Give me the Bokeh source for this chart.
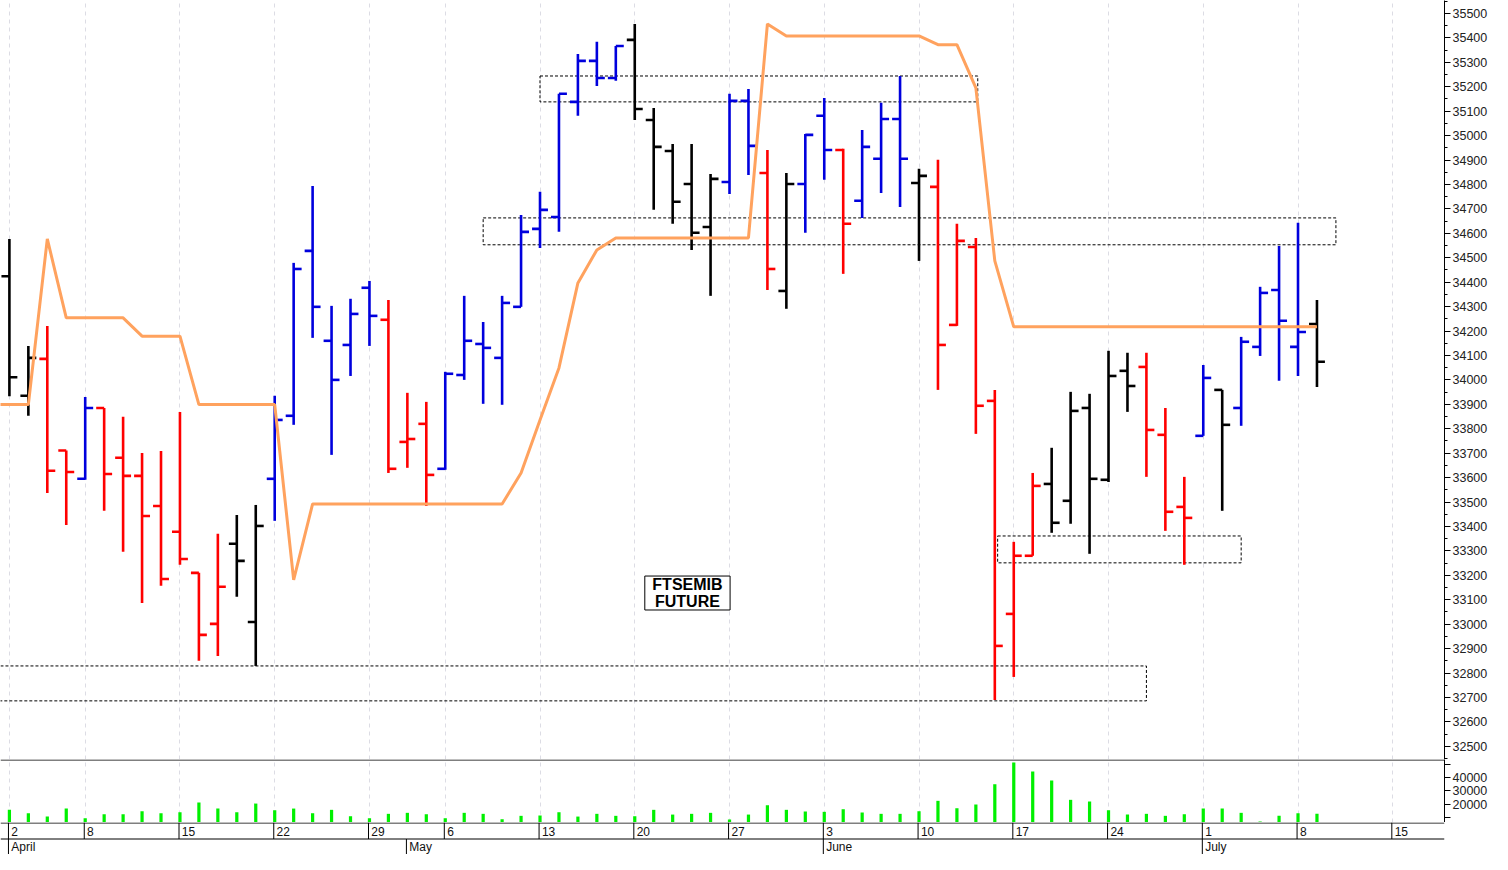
from bokeh.plotting import figure
from bokeh.models import Range1d, FixedTicker, SingleIntervalTicker, Grid, Span
from bokeh.layouts import column
from bokeh.embed import file_html
from bokeh.resources import INLINE
from bokeh.core.properties import value

# ---------------- data (trading-day index 0 = 2 April) ----------------
opens = [34424, 33935, 34086, 33711, 33595, 33885, 33681, 33607, 33484, 33378,
         33210, 33001, 33329, 33009, 33595, 33853, 34528, 34160, 34143, 34377,
         34246, 33746, 33820, 33636, 34020, 34147, 34090, 34299, 34618, 34667,
         35138, 35306, 35236, 35392, 35064, 34937, 34802, 34626, 34810, 35142,
         34847, 34364, 34802, 35081, 34941, 34733, 34905, 35068, 34806, 34790,
         34225, 34544, 33914, 33042, 33280, 33574, 33505, 33885, 33591, 34037,
         34053, 33775, 33480, 33771, 33959, 33885, 34135, 34368, 34135, 34229]
highs = [34577, 34139, 34221, 33711, 33930, 33885, 33849, 33701, 33709, 33869,
         33210, 33370, 33447, 33488, 33935, 34479, 34794, 34303, 34332, 34405,
         34327, 33947, 33910, 34033, 34344, 34237, 34344, 34675, 34770, 35171,
         35334, 35384, 35367, 35457, 35113, 34966, 34966, 34843, 35171, 35191,
         34941, 34847, 35007, 35154, 34946, 35023, 35134, 35244, 34864, 34901,
         34639, 34581, 33959, 33337, 33619, 33722, 33951, 33943, 34119, 34111,
         34111, 33885, 33603, 34061, 33959, 34176, 34381, 34548, 34643, 34327]
lows = [33933, 33853, 33537, 33406, 33591, 33464, 33296, 33087, 33157, 33243,
        32850, 32870, 33112, 32829, 33423, 33816, 34172, 33693, 34016, 34139,
        33619, 33640, 33484, 33632, 34000, 33902, 33898, 34299, 34540, 34606,
        35081, 35203, 35224, 35064, 34696, 34639, 34532, 34344, 34761, 34839,
        34368, 34291, 34602, 34819, 34434, 34663, 34765, 34708, 34487, 33959,
        34221, 33779, 32690, 32784, 33280, 33374, 33411, 33288, 33582, 33869,
        33603, 33382, 33243, 33771, 33464, 33812, 34098, 33996, 34016, 33971]
closes = [34011, 34090, 33628, 33623, 33885, 33615, 33607, 33443, 33185, 33267,
          32956, 33153, 33259, 33402, 33836, 34454, 34299, 34000, 34270, 34262,
          33636, 33758, 33611, 34025, 34160, 34131, 34315, 34606, 34696, 35171,
          35306, 35236, 35367, 35109, 34954, 34729, 34602, 34823, 35142, 34958,
          34454, 34802, 35003, 34941, 34639, 34954, 35068, 34905, 34835, 34143,
          34569, 33894, 32911, 33280, 33566, 33415, 33873, 33595, 34016, 33975,
          33795, 33460, 33435, 34008, 33816, 34156, 34356, 34242, 34196, 34074]
# bar colour codes: k = black, r = red, b = blue
bar_codes = ("kkrrbrrrrr" "rrkkbbbbbb" "rrrbbbbbbb" "bbbkkkkkbb"
             "rkbbrbbbkr" "rrrrrkkkkk" "rrrbkbbbbk")
volumes = [15750, 13200, 10700, 16700, 9450, 12450, 12450, 14700, 13200, 13950,
           21200, 16700, 13950, 20450, 15450, 16700, 13200, 15750, 10950, 9450,
           12750, 13500, 12450, 9450, 13500, 12750, 8700, 11250, 11500, 13950,
           10700, 12750, 11250, 10950, 15750, 12200, 12750, 13500, 8500, 12200,
           19200, 15750, 14500, 14250, 16200, 13750, 12750, 12750, 14700, 22500,
           16950, 19750, 34950, 51250, 44500, 37750, 23250, 22000, 15450, 12250,
           12750, 11250, 12450, 16750, 16750, 13500, 7000, 11250, 13200, 12750]
# orange line (starts one session before the first bar)
line_x = list(range(-1, 70))
line_vals = ([33899, 33899, 33899, 34577, 34254, 34254, 34254, 34254, 34179, 34179,
              34179, 33899, 33899, 33899, 33899, 33899, 33181, 33492]
             + [33492] * 10
             + [33619, 33836, 34049, 34397, 34532, 34581]
             + [34581] * 7
             + [35457, 35408]
             + [35408] * 7
             + [35372, 35372, 35195, 34487]
             + [34217] * 17)
# dashed zones
zone_left = [28.0, 25.0, 52.15, -1.0]
zone_right = [51.1, 70.0, 65.0, 60.0]
zone_top = [35244, 34663, 33361, 32829]
zone_bottom = [35138, 34553, 33251, 32686]
# date axis
week_idx = [0, 4, 9, 14, 19, 23, 28, 33, 38, 43, 48, 53, 58, 63, 68, 73]
week_labels = ["2", "8", "15", "22", "29", "6", "13", "20", "27", "3", "10", "17", "24", "1", "8", "15"]
month_idx = [0, 21, 43, 63]
month_labels = ["April", "May", "June", "July"]
note_lines = ["FTSEMIB", "FUTURE"]
note_x = 35.78
note_centers = [33163, 33094]
note_box = dict(left=33.53, right=38.03, top=33197, bottom=33058)

# ---------------- layout ----------------
W = 1492
AXIS_W = 48
PRICE_H, VOL_H, DATE_H = 759, 63, 32
FONT = "Liberation Sans"
COLOR_MAP = {"k": "#000000", "r": "#ff0000", "b": "#0000dd"}
colors = [COLOR_MAP[c] for c in bar_codes]
idx = list(range(len(opens)))

x_range = Range1d(-0.47, 75.73)


def make_fig(height, y_range, axis=True):
    p = figure(width=W, height=height, x_range=x_range, y_range=y_range,
               output_backend="svg", toolbar_location=None, tools="", title=None,
               x_axis_location=None, y_axis_location="right" if axis else None,
               min_border_left=0, min_border_top=0, min_border_bottom=0,
               min_border_right=AXIS_W)
    p.outline_line_color = None
    p.background_fill_color = "white"
    p.border_fill_color = "white"
    for g in p.grid:
        g.visible = False
    if axis:
        ax = p.yaxis[0]
        ax.axis_line_color = "black"
        ax.major_tick_line_color = "black"
        ax.minor_tick_line_color = "black"
        ax.major_tick_in = 0
        ax.major_tick_out = 6
        ax.minor_tick_in = 0
        ax.minor_tick_out = 3
        ax.major_label_standoff = 2
        ax.major_label_text_font = FONT
        ax.major_label_text_font_size = "12.5px"
        ax.major_label_text_color = "#222222"
    return p


def add_week_grid(p):
    p.add_layout(Grid(dimension=0, ticker=FixedTicker(ticks=week_idx),
                      grid_line_color="#dcdce4", grid_line_dash="4 4",
                      grid_line_width=1))


# price panel
pp = make_fig(PRICE_H, Range1d(32446, 35553))
pp.yaxis[0].ticker = SingleIntervalTicker(interval=100, num_minor_ticks=2)
add_week_grid(pp)

pp.quad(left=zone_left, right=zone_right, top=zone_top, bottom=zone_bottom,
        fill_color=None, line_color="black", line_dash="3 2", line_width=1)

tick = 0.42
pp.segment(x0=idx, y0=lows, x1=idx, y1=highs, line_color=colors, line_width=2.6)
pp.segment(x0=[i - tick for i in idx], y0=opens, x1=idx, y1=opens,
           line_color=colors, line_width=2.6)
pp.segment(x0=idx, y0=closes, x1=[i + tick for i in idx], y1=closes,
           line_color=colors, line_width=2.6)

pp.line(line_x, line_vals, line_color="#ffa25e", line_width=3)

pp.quad(left=[note_box["left"]], right=[note_box["right"]], top=[note_box["top"]],
        bottom=[note_box["bottom"]], fill_color="white", line_color="black", line_width=1)
pp.text(x=[note_x, note_x], y=note_centers, text=note_lines, text_align="center",
        text_baseline="middle", text_font=value(FONT), text_font_style="bold",
        text_font_size="16px", text_color="black")

# volume panel
VOL_LO, VOL_HI = 6250, 53500
pv = make_fig(VOL_H, Range1d(VOL_LO, VOL_HI))
pv.yaxis[0].ticker = FixedTicker(ticks=[20000, 30000, 40000], minor_ticks=[10000, 50000])
pv.yaxis[0].minor_tick_out = 6
add_week_grid(pv)
pv.vbar(x=idx, top=volumes, bottom=0, width=0.17, fill_color="#00f000", line_color=None)
pv.add_layout(Span(location=VOL_HI - 0.5 * (VOL_HI - VOL_LO) / VOL_H, dimension="width",
                   line_color="black", line_width=1))

# date band
MID = 15.5
pd_ = make_fig(DATE_H, Range1d(0, DATE_H), axis=False)
pd_.add_layout(Span(location=DATE_H - 0.5, dimension="width", line_color="black", line_width=1))
pd_.add_layout(Span(location=MID, dimension="width", line_color="black", line_width=1))
pd_.segment(x0=[i - 0.05 for i in week_idx], y0=MID, x1=[i - 0.05 for i in week_idx],
            y1=DATE_H, line_color="black", line_width=1)
pd_.text(x=[i + 0.1 for i in week_idx], y=MID + 7.5, text=week_labels, text_align="left",
         text_baseline="middle", text_font=value(FONT), text_font_size="12px",
         text_color="#111111")
pd_.segment(x0=[i - 0.05 for i in month_idx], y0=0, x1=[i - 0.05 for i in month_idx],
            y1=MID, line_color="black", line_width=1)
pd_.text(x=[i + 0.1 for i in month_idx], y=MID - 8, text=month_labels, text_align="left",
         text_baseline="middle", text_font=value(FONT), text_font_size="12px",
         text_color="#111111")

layout = column(pp, pv, pd_, spacing=0)
open("out.html", "w").write(file_html(layout, INLINE))
